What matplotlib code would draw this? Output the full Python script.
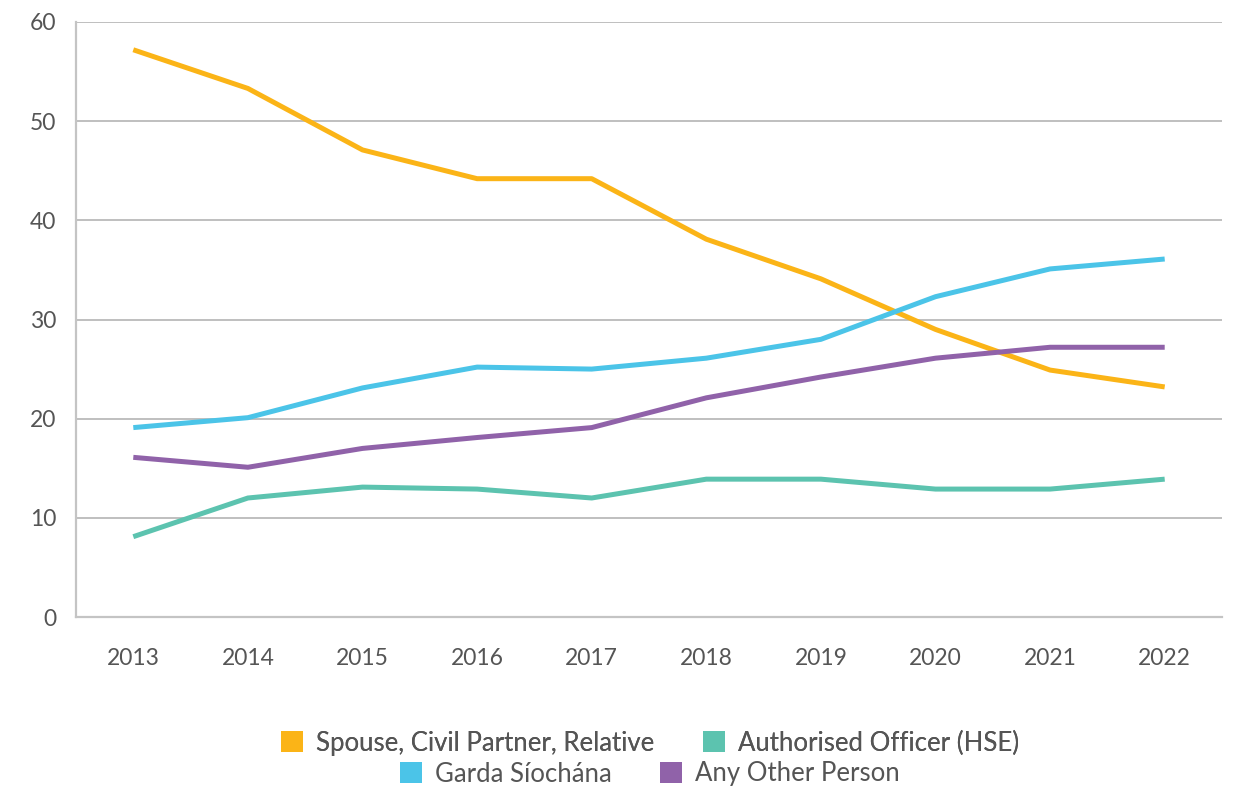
import matplotlib
matplotlib.use("Agg")
import matplotlib.pyplot as plt
from matplotlib.patches import Patch

years = ["2013", "2014", "2015", "2016", "2017", "2018", "2019", "2020", "2021", "2022"]
spouse = [57.2, 53.3, 47.1, 44.2, 44.2, 38.1, 34.1, 29.0, 24.9, 23.2]
hse = [8.1, 12.0, 13.1, 12.9, 12.0, 13.9, 13.9, 12.9, 12.9, 13.9]
garda = [19.1, 20.1, 23.1, 25.2, 25.0, 26.1, 28.0, 32.3, 35.1, 36.1]
other = [16.1, 15.1, 17.0, 18.1, 19.1, 22.1, 24.2, 26.1, 27.2, 27.2]

series = [
    ("Spouse, Civil Partner, Relative", spouse, "#FBB417"),
    ("Authorised Officer (HSE)", hse, "#5CC3AF"),
    ("Garda Síochána", garda, "#4BC4E8"),
    ("Any Other Person", other, "#9062A9"),
]

plt.rcParams['font.family'] = ['Lato', 'DejaVu Sans']
text_color = "#555555"

fig = plt.figure(figsize=(12.4, 7.89), dpi=100)
ax = fig.add_axes([76/1240, 1-617/789, (1222-76)/1240, (617-22)/789])

x = list(range(len(years)))
for name, vals, col in series:
    ax.plot(x, vals, color=col, lw=3.6, solid_capstyle='butt', solid_joinstyle='round', zorder=3)

ax.set_xlim(-0.5, len(years) - 0.5)
ax.set_ylim(0, 60)
ax.set_yticks(range(0, 61, 10))
ax.set_xticks(x)
ax.set_xticklabels(years)
ax.grid(axis='y', color='#B4B4B4', lw=1.2)
ax.set_axisbelow(True)
for s in ['top', 'right']:
    ax.spines[s].set_visible(False)
for s in ['left', 'bottom']:
    ax.spines[s].set_color('#C4C4C4')
    ax.spines[s].set_linewidth(1.6)
ax.tick_params(axis='both', length=0, labelsize=16.5, labelcolor=text_color)
ax.tick_params(axis='y', pad=14)
ax.tick_params(axis='x', pad=22)

def handles(items):
    return [Patch(facecolor=c, edgecolor='none', label=n) for n, _, c in items]

common = dict(loc='center', ncol=2, frameon=False, fontsize=18.5, handlelength=0.85, handleheight=0.85,
              handletextpad=0.5, columnspacing=1.9, labelcolor=text_color)
leg1 = fig.legend(handles=handles(series[:2]), bbox_to_anchor=(650/1240, 1-743/789), **common)
fig.add_artist(leg1)
leg2 = fig.legend(handles=handles(series[2:]), bbox_to_anchor=(650/1240, 1-774/789), **common)

fig.savefig("out.png", dpi=100)
